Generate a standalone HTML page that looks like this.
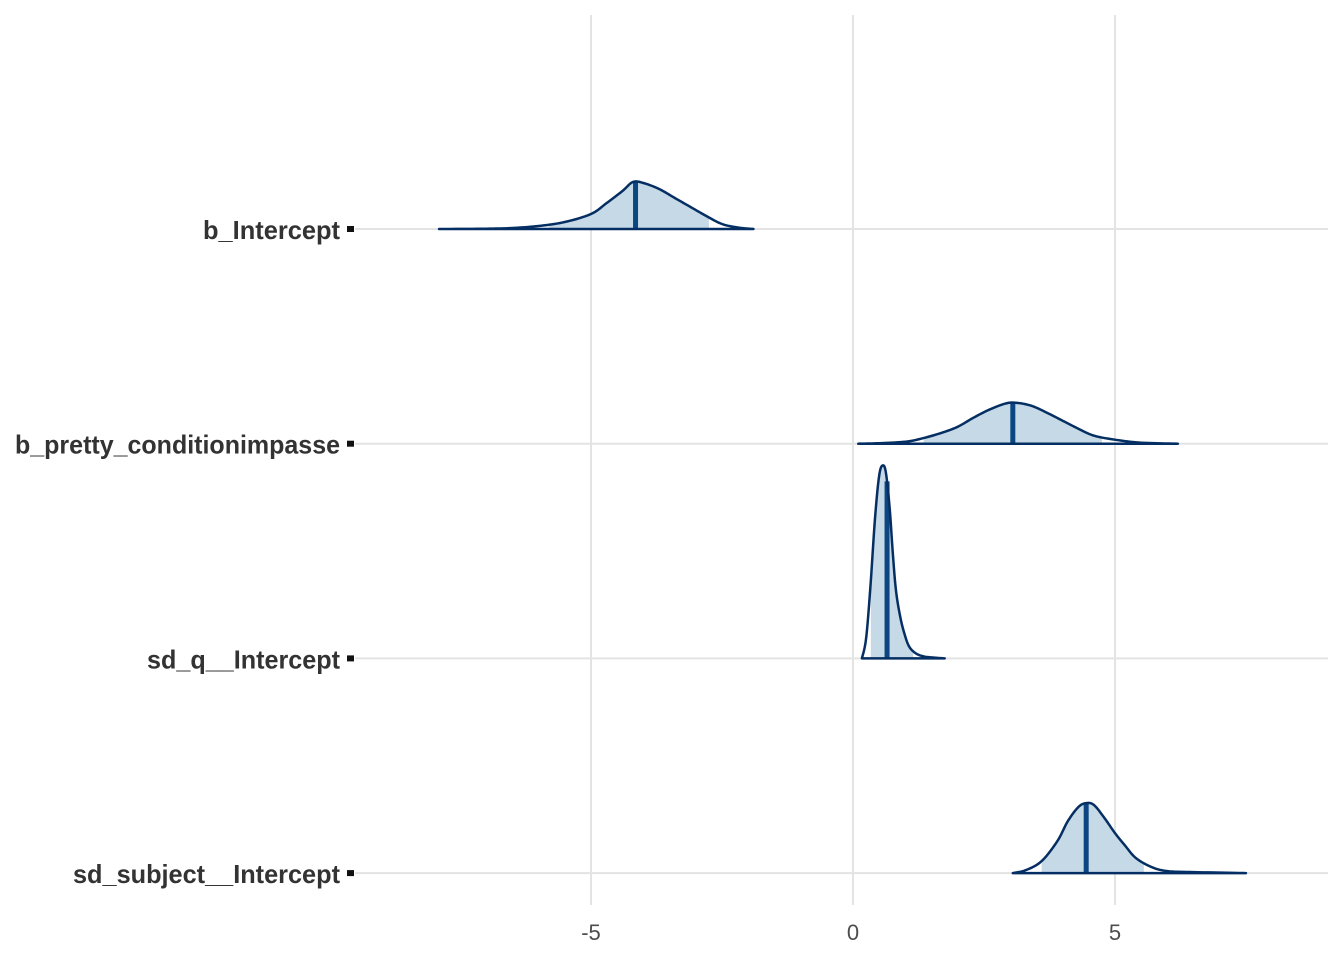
<!DOCTYPE html>
<html><head><meta charset="utf-8"><style>body{margin:0;background:#fff}svg{display:block}</style></head>
<body>
<svg id="chart" width="1344" height="960" xmlns="http://www.w3.org/2000/svg"></svg>
<script>
const params = ["b_Intercept","b_pretty_conditionimpasse","sd_q__Intercept","sd_subject__Intercept"];
const labelWidths = [137,325,193,267];
const xTicks = [-5,0,5];
const tickLabels = ["-5","0","5"];
const densX = [
 [-7.9,-7,-6.5,-6,-5.5,-5,-4.7,-4.4,-4.2,-4.0,-3.7,-3.4,-3.1,-2.8,-2.5,-2.2,-1.9],
 [0.1,0.5,1,1.3,1.7,2,2.3,2.6,2.9,3.1,3.4,3.7,4,4.3,4.6,5,5.5,6.2],
 [0.17,0.25,0.33,0.42,0.5,0.57,0.63,0.7,0.76,0.82,0.9,0.98,1.07,1.2,1.35,1.5,1.75],
 [3.05,3.3,3.6,3.9,4.1,4.3,4.45,4.6,4.8,5.0,5.2,5.4,5.7,6,6.5,7.5]
];
const densY = [
 [0,0.3,1,3,7,15,26,38,47,46,40,31,22,13,5,1.5,0],
 [0,0.5,2,5,11,17,26,34,40,41,38,31,23,15,8,4,1,0],
 [0,20,70,140,183,193,185,150,105,68,42,25,12,5,2,1,0],
 [0,3,12,32,52,66,70,68,55,40,27,15,6,2,1,0]
];
const medians = [-4.15,3.05,0.65,4.45];
const intLo = [-5.8,1.35,0.34,3.6];
const intHi = [-2.75,4.75,1.15,5.55];

const NS="http://www.w3.org/2000/svg";
const svg=document.getElementById('chart');
const xs=v=>853+v*52.4;
const rowY=i=>229+i*214.7;
function mk(t,a,p){const e=document.createElementNS(NS,t);for(const k in a)e.setAttribute(k,a[k]);(p||svg).appendChild(e);return e;}
// smooth densities via Catmull-Rom resampling
function smooth(X,Y){const out=[];for(let k=0;k<X.length-1;k++){const i0=Math.max(k-1,0),i3=Math.min(k+2,X.length-1);for(let s=0;s<10;s++){const t=s/10,t2=t*t,t3=t2*t;const f=(p0,p1,p2,p3)=>0.5*((2*p1)+(-p0+p2)*t+(2*p0-5*p1+4*p2-p3)*t2+(-p0+3*p1-3*p2+p3)*t3);out.push([f(X[i0],X[k],X[k+1],X[i3]),Math.max(0,f(Y[i0],Y[k],Y[k+1],Y[i3]))]);}}out.push([X[X.length-1],Y[Y.length-1]]);return out;}

xTicks.forEach((t,i)=>{
 const g=mk('line',{x1:xs(t),x2:xs(t),y1:15,y2:905,stroke:'#e3e3e3','stroke-width':2});
 
 
 const tx=mk('text',{x:xs(t),y:940,'text-anchor':'middle','font-family':'Liberation Sans, sans-serif','font-size':22,fill:'#4d4d4d'});
 tx.textContent=tickLabels[i];
 
 
});
params.forEach((p,i)=>{
 const y0=rowY(i);
 const hl=mk('line',{x1:355,x2:1328,y1:y0,y2:y0,stroke:'#e3e3e3','stroke-width':2});
 
 
 const tk=mk('rect',{x:347,y:y0-3,width:7,height:6,fill:'#111'});
 
 
 const lb=mk('text',{x:340,y:y0+10,'text-anchor':'end','font-family':'Liberation Sans, sans-serif','font-size':26,'font-weight':'bold',fill:'#333',textLength:labelWidths[i],lengthAdjust:'spacingAndGlyphs'});
 lb.textContent=p;
 
 
 const S=smooth(densX[i],densY[i]);
 const interp=v=>{for(let k=1;k<S.length;k++){if(v<=S[k][0]){const f=(v-S[k-1][0])/(S[k][0]-S[k-1][0]);return S[k-1][1]+f*(S[k][1]-S[k-1][1]);}}return 0;};
 let pts=[[intLo[i],interp(intLo[i])]];
 S.forEach(q=>{if(q[0]>intLo[i]&&q[0]<intHi[i])pts.push(q);});
 pts.push([intHi[i],interp(intHi[i])]);
 let d='M'+xs(intLo[i])+','+y0+pts.map(q=>'L'+xs(q[0])+','+(y0-q[1])).join('')+'L'+xs(intHi[i])+','+y0+'Z';
 const ar=mk('path',{d:d,fill:'#c6d9e6',stroke:'none'});
 
 
 const md=mk('line',{x1:xs(medians[i]),x2:xs(medians[i]),y1:y0,y2:y0-interp(medians[i]),stroke:'#0b4682','stroke-width':5});
 
 
 let d2='M'+S.map(q=>xs(q[0])+','+(y0-q[1])).join('L')+'Z';
 const ol=mk('path',{d:d2,fill:'none',stroke:'#052f63','stroke-width':2.5,'stroke-linejoin':'round'});
 
 
});
</script>
</body></html>
